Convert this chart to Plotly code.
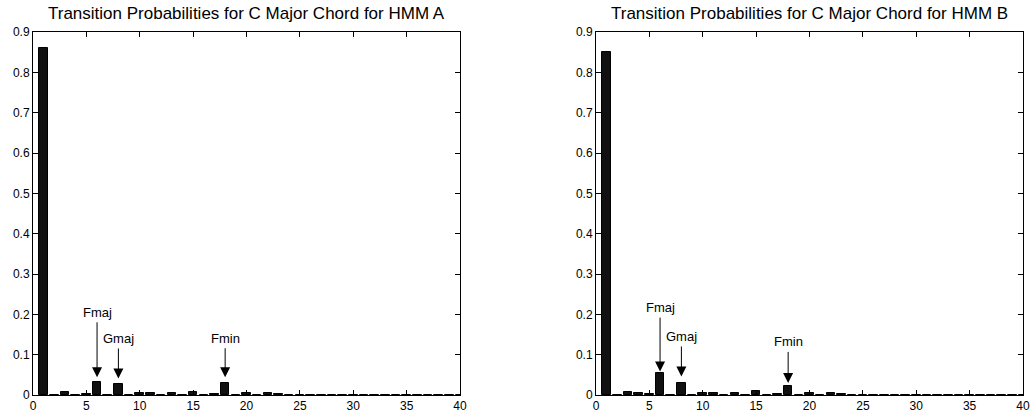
import plotly.graph_objects as go

# chord index 1..40
chords = list(range(1, 41))

# HMM A transition probabilities
prob_a = [0.860, 0.001, 0.007, 0.001, 0.002, 0.0315, 0.001, 0.027, 0.001, 0.005,
          0.005, 0.001, 0.005, 0.001, 0.008, 0.001, 0.002, 0.0305, 0.001, 0.006,
          0.001, 0.005, 0.003, 0.001, 0.001, 0.0, 0.0, 0.0, 0.0005, 0.0,
          0.0, 0.0005, 0.0, 0.0, 0.0, 0.0, 0.0, 0.0, 0.0, 0.0]

# HMM B transition probabilities
prob_b = [0.850, 0.001, 0.008, 0.005, 0.002, 0.054, 0.001, 0.0305, 0.001, 0.005,
          0.005, 0.001, 0.004, 0.001, 0.010, 0.001, 0.002, 0.0215, 0.001, 0.006,
          0.001, 0.006, 0.003, 0.001, 0.001, 0.0, 0.0, 0.0, 0.0005, 0.0,
          0.0, 0.0005, 0.0, 0.0, 0.0, 0.0, 0.0, 0.0, 0.0, 0.0]

titles = ["Transition Probabilities for C Major Chord for HMM A",
          "Transition Probabilities for C Major Chord for HMM B"]

# annotations: label, chord index, arrow-tip value, text offset (px)
ann_labels = ["Fmaj", "Gmaj", "Fmin"]
ann_x = [6, 8, 18]
ann_tip_a = [0.044, 0.041, 0.044]
ann_off_a = [-65, -40, -39]
ann_tip_b = [0.058, 0.046, 0.030]
ann_off_b = [-64, -40, -41]

x_ticks = list(range(0, 41, 5))
y_ticks = [round(0.1 * i, 1) for i in range(10)]

FONT = "Liberation Sans, Arial, Helvetica, sans-serif"

fig = go.Figure()
for i, vals in enumerate([prob_a, prob_b]):
    sfx = "" if i == 0 else "2"
    fig.add_trace(go.Bar(
        x=chords, y=vals, width=0.8,
        marker=dict(color="#111111", line=dict(color="#000000", width=1)),
        xaxis="x" + sfx, yaxis="y" + sfx, showlegend=False,
    ))

ax_common = dict(
    showgrid=False, zeroline=False, showline=True, linecolor="black", linewidth=1,
    mirror="allticks", ticks="inside", ticklen=5, tickcolor="black", tickwidth=1,
    tickfont=dict(family=FONT, size=12, color="black"), automargin=False,
)

y_lo = 23 / 418
y_hi = 386 / 418
fig.update_layout(
    template="none",
    width=1032, height=418,
    margin=dict(l=0, r=0, t=0, b=0, pad=0),
    paper_bgcolor="white", plot_bgcolor="white",
    bargap=0,
    xaxis=dict(domain=[33 / 1032, 460 / 1032], range=[0, 40], tickvals=x_ticks, anchor="y", **ax_common),
    yaxis=dict(domain=[y_lo, y_hi], range=[0, 0.9], tickvals=y_ticks, anchor="x", **ax_common),
    xaxis2=dict(domain=[596 / 1032, 1023 / 1032], range=[0, 40], tickvals=x_ticks, anchor="y2", **ax_common),
    yaxis2=dict(domain=[y_lo, y_hi], range=[0, 0.9], tickvals=y_ticks, anchor="x2", **ax_common),
)

annotations = []
centers = [(33 + 460) / 2 / 1032, (596 + 1023) / 2 / 1032]
for c, t in zip(centers, titles):
    annotations.append(dict(
        text=t, x=c, y=(418 - 14) / 418, xref="paper", yref="paper",
        xanchor="center", yanchor="middle", showarrow=False,
        font=dict(family=FONT, size=17, color="black"),
    ))

for sfx, tips, offs in [("", ann_tip_a, ann_off_a), ("2", ann_tip_b, ann_off_b)]:
    for lab, xv, tip, off in zip(ann_labels, ann_x, tips, offs):
        annotations.append(dict(
            text=lab, x=xv, y=tip, xref="x" + sfx, yref="y" + sfx,
            ax=0, ay=off, showarrow=True, arrowhead=2, arrowsize=2,
            arrowwidth=1, arrowcolor="black", standoff=0, startstandoff=1,
            font=dict(family=FONT, size=13, color="black"),
        ))

fig.update_layout(annotations=annotations)
fig.write_html(
    "out.html",
    config={"displayModeBar": False},
    post_script="document.body.style.margin='0';document.body.style.padding='0';",
)
